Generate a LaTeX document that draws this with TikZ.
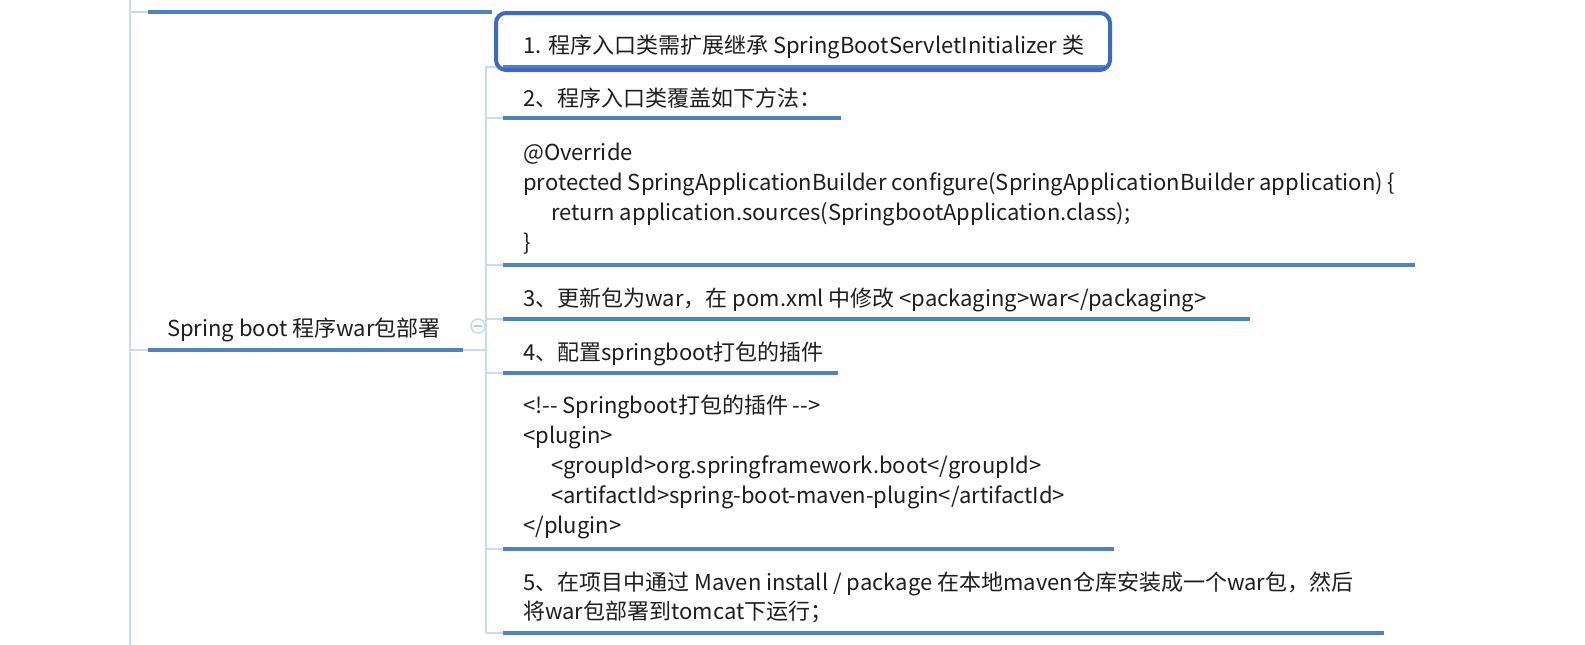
\documentclass[tikz,border=0pt]{standalone}
\usepackage{fontspec}
\setmainfont{Noto Sans CJK SC}
\definecolor{ulblue}{RGB}{79,129,199}
\definecolor{linkblue}{RGB}{200,218,240}
\definecolor{selblue}{RGB}{58,106,196}
\definecolor{txt}{RGB}{30,30,30}
\newcommand{\dd}{\mbox{-}\mbox{-}}
\begin{document}
\begin{tikzpicture}[x=1pt,y=-1pt,
  font=\fontsize{22}{30}\selectfont,
  ul/.style={ulblue, line width=4pt},
  link/.style={linkblue, line width=1.5pt},
  lbl/.style={anchor=base west, inner sep=0pt, text=txt},
  sel/.style={selblue, line width=4pt, rounded corners=10pt}]
\useasboundingbox[fill=white] (0,0) rectangle (1585,645);

% trunk and buses
\coordinate (trT) at (130,0);
\coordinate (trB) at (130,645);
\draw[link] (trT) -- (trB);
\coordinate (busT) at (486,66);
\coordinate (busB) at (486,633);
\draw[link] (busT) -- (busB);

% top (cut) node underline
\coordinate (t0a) at (148,12); \coordinate (t0b) at (492,12);
\coordinate (trU) at (130,12);
\draw[link] (trU) -- (t0a);
\draw[ul] (t0a) -- (t0b);

% main node
\node[lbl] (main) at (167,336) {Spring boot 程序war包部署};
\coordinate (m0a) at (148,350); \coordinate (m0b) at (463,350);
\coordinate (trM) at (130,350);
\coordinate (busM) at (486,350);
\draw[link] (trM) -- (m0a);
\draw[ul] (m0a) -- (m0b);
\draw[link] (m0b) -- (busM);
\node[circle, draw=linkblue, fill=white, line width=1.5pt, minimum size=14pt, inner sep=0pt] (col) at (478,326) {};
\draw[linkblue!80!gray, line width=1.2pt] ([xshift=-4pt]col.center) -- ([xshift=4pt]col.center);

% children
\foreach \n/\y/\xe in {1/67/1105, 2/118/841, 2b/265/1415, 3/319/1250, 4/373/838, 4b/549/1114, 5/633/1384}{
  \coordinate (u\n a) at (503,\y);
  \coordinate (u\n b) at (\xe,\y);
  \coordinate (b\n) at (486,\y);
  \draw[link] (b\n) -- (u\n a);
  \draw[ul] (u\n a) -- (u\n b);
}

\node[lbl] (c1) at (523,53) {1. 程序入口类需扩展继承 SpringBootServletInitializer 类};
\node[lbl] (c2) at (523,106) {2、程序入口类覆盖如下方法：};
\node[lbl] (c2l1) at (523,160) {@Override};
\node[lbl] (c2l2) at (523,190) {protected SpringApplicationBuilder configure(SpringApplicationBuilder application) \{};
\node[lbl] (c2l3) at (551,220) {return application.sources(SpringbootApplication.class);};
\node[lbl] (c2l4) at (523,250) {\}};
\node[lbl] (c3) at (523,306) {3、更新包为war，在 pom.xml 中修改 <packaging>war</packaging>};
\node[lbl] (c4) at (523,360) {4、配置springboot打包的插件};
\node[lbl] (c4l1) at (523,413) {<!\dd{} Springboot打包的插件 \dd>};
\node[lbl] (c4l2) at (523,443) {<plugin>};
\node[lbl] (c4l3) at (551,473) {<groupId>org.springframework.boot</groupId>};
\node[lbl] (c4l4) at (551,503) {<artifactId>spring-boot-maven-plugin</artifactId>};
\node[lbl] (c4l5) at (523,533) {</plugin>};
\node[lbl] (c5l1) at (523,590) {5、在项目中通过 Maven install / package 在本地maven仓库安装成一个war包，然后};
\node[lbl] (c5l2) at (523,619) {将war包部署到tomcat下运行；};

% selection frame around child 1
\draw[sel] (496,13) rectangle (1110,70);
\end{tikzpicture}
\end{document}
